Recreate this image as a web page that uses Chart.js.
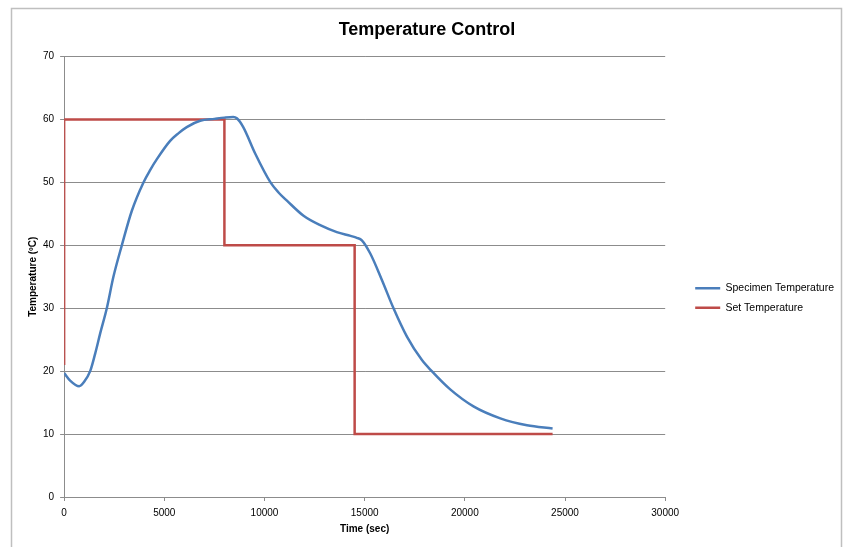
<!DOCTYPE html>
<html>
<head>
<meta charset="utf-8">
<script src="https://cdn.jsdelivr.net/npm/chart.js@4"></script>
<style>
  html, body { margin: 0; padding: 0; background: #fff; }
  #wrap { width: 845px; height: 547px; position: relative; }
</style>
</head>
<body>
<div id="wrap"><canvas id="tempChart"></canvas></div>
<script>
// Specimen temperature readings (time in sec, temperature in ºC)
const specimenTime = [0, 300, 750, 1000, 1300, 1550, 1800, 2130, 2460, 2880, 3380, 3960, 4300, 4630, 5290, 5700, 6120, 6790, 7500, 8000, 8440, 8620, 8940, 9535, 10300, 10700, 11120, 11950, 12780, 13610, 14300, 14610, 14860, 15280, 15860, 16440, 17110, 17850, 18350, 19270, 20430, 21770, 23100, 24380];
const specimenTemp = [19.7, 18.5, 17.6, 18.3, 20.0, 22.8, 26.0, 30.0, 35.0, 40.0, 45.5, 50.0, 52.0, 53.7, 56.6, 57.8, 58.8, 59.8, 60.1, 60.3, 60.4, 60.2, 58.8, 54.6, 50.0, 48.4, 47.1, 44.7, 43.2, 42.1, 41.5, 41.2, 40.8, 38.7, 34.5, 30.0, 25.5, 21.8, 20.0, 17.1, 14.4, 12.5, 11.4, 10.9];

// Set point steps
const setTime = [0, 0, 8000, 8000, 14500, 14500, 24380];
const setTemp = [21, 60, 60, 40, 40, 10, 10];

const xTicks = [0, 5000, 10000, 15000, 20000, 25000, 30000];
const yTicks = [0, 10, 20, 30, 40, 50, 60, 70];

const toPoints = (xs, ys) => xs.map((x, i) => ({ x: x, y: ys[i] }));

// Excel style outer frame of the chart area
const framePlugin = {
    id: 'frame',
    beforeDraw(chart) {
        const ctx = chart.ctx;
        ctx.save();
        ctx.fillStyle = '#ffffff';
        ctx.fillRect(0, 0, chart.width, chart.height);
        ctx.strokeStyle = '#bfbfbf';
        ctx.lineWidth = 1.5;
        ctx.strokeRect(11.5, 8.5, 830, 600);
        ctx.restore();
    }
};

const gridGrey = '#8c8c8c';
const fontFamily = "'Liberation Sans', sans-serif";

const canvas = document.getElementById('tempChart');
new Chart(canvas, {
    type: 'line',
    data: {
        datasets: [{
            label: 'Specimen Temperature',
            data: toPoints(specimenTime, specimenTemp),
            borderColor: '#4a7ebb',
            backgroundColor: '#4a7ebb',
            borderWidth: 2.5,
            pointRadius: 0,
            cubicInterpolationMode: 'monotone',
        }, {
            label: 'Set Temperature',
            data: toPoints(setTime, setTemp),
            borderColor: '#be4b48',
            backgroundColor: '#be4b48',
            borderWidth: 2.5,
            pointRadius: 0,
            tension: 0,
        }]
    },
    plugins: [framePlugin],
    options: {
        responsive: true,
        maintainAspectRatio: false,
        animation: false,
        layout: {
            padding: { left: 10, right: 1, top: 0, bottom: 12 }
        },
        plugins: {
            title: {
                display: true,
                text: 'Temperature Control',
                color: '#000',
                font: { family: fontFamily, size: 18, weight: 'bold' },
                padding: { top: 19, bottom: 16 }
            },
            legend: {
                position: 'right',
                align: 'center',
                maxWidth: 200,
                title: {
                    display: true,
                    text: ' ',
                    font: { family: fontFamily, size: 10 },
                    padding: { top: 49, bottom: 0 }
                },
                labels: {
                    usePointStyle: true,
                    pointStyle: 'line',
                    pointStyleWidth: 25,
                    color: '#000',
                    font: { family: fontFamily, size: 10.5 },
                    padding: 9
                }
            },
            tooltip: { enabled: false }
        },
        scales: {
            x: {
                type: 'linear',
                min: 0,
                max: 30000,
                afterBuildTicks: axis => { axis.ticks = xTicks.map(v => ({ value: v })); },
                ticks: {
                    color: '#000',
                    font: { family: fontFamily, size: 10 },
                    maxRotation: 0,
                    padding: 6,
                    callback: v => String(v)
                },
                grid: {
                    color: 'rgba(0,0,0,0)',
                    tickColor: gridGrey,
                    tickLength: 4,
                    drawOnChartArea: false
                },
                border: { display: true, color: gridGrey, width: 1 },
                title: {
                    display: true,
                    text: 'Time (sec)',
                    color: '#000',
                    font: { family: fontFamily, size: 10, weight: 'bold' },
                    padding: { top: -2, bottom: 0 }
                }
            },
            y: {
                min: 0,
                max: 70,
                afterBuildTicks: axis => { axis.ticks = yTicks.map(v => ({ value: v })); },
                ticks: {
                    color: '#000',
                    font: { family: fontFamily, size: 10 },
                    padding: 6
                },
                grid: {
                    color: gridGrey,
                    tickColor: gridGrey,
                    tickLength: 4
                },
                border: { display: true, color: gridGrey, width: 1 },
                title: {
                    display: true,
                    text: 'Temperature (ºC)',
                    color: '#000',
                    font: { family: fontFamily, size: 10, weight: 'bold' },
                    padding: { top: 17, bottom: -2 }
                }
            },
            // empty spacer between plot area and legend
            gap: {
                position: 'right',
                display: true,
                grid: { display: false },
                ticks: { display: false },
                border: { display: false },
                afterFit: scale => { scale.width = 21; }
            }
        }
    }
});
</script>
</body>
</html>
